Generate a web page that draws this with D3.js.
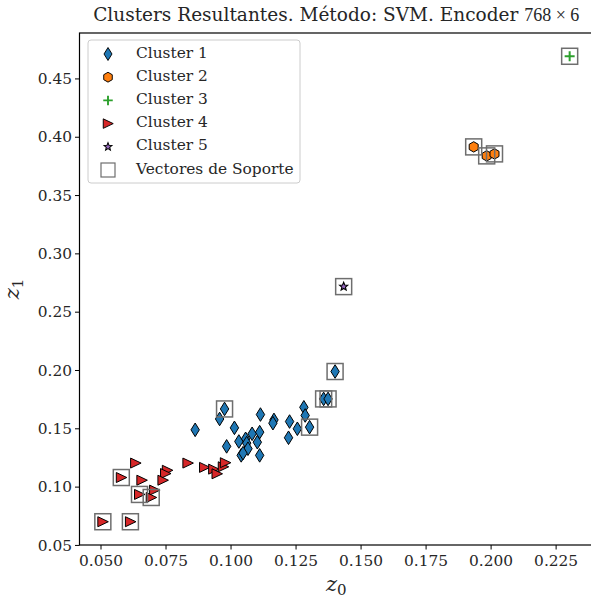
<!DOCTYPE html>
<html>
<head>
<meta charset="utf-8">
<script src="https://cdn.jsdelivr.net/npm/d3@7"></script>
<style>
  html, body { margin: 0; padding: 0; background: #ffffff; }
  svg { display: block; }
  text { font-family: "DejaVu Serif", serif; fill: #262626; }
</style>
</head>
<body>
<svg id="chart" width="591" height="599"></svg>
<script>
// ---- data -------------------------------------------------------------
const cluster1X = [0.1402, 0.1358, 0.1375, 0.0977, 0.0958, 0.1115, 0.1167, 0.1163, 0.1282,
                   0.1287, 0.1227, 0.1257, 0.1304, 0.1223, 0.0864, 0.1015, 0.1112, 0.1032,
                   0.1058, 0.1062, 0.1083, 0.1103, 0.0985, 0.1067, 0.1041, 0.1048, 0.1112];
const cluster1Y = [0.1987, 0.1752, 0.1752, 0.1666, 0.1580, 0.1618, 0.1572, 0.1544, 0.1680,
                   0.1610, 0.1558, 0.1496, 0.1510, 0.1419, 0.1487, 0.1504, 0.1467, 0.1387,
                   0.1410, 0.1373, 0.1453, 0.1381, 0.1345, 0.1325, 0.1268, 0.1287, 0.1268];

const cluster2X = [0.1935, 0.1985, 0.2015];
const cluster2Y = [0.3913, 0.3836, 0.3853];

const cluster3X = [0.2304];
const cluster3Y = [0.4690];

const cluster4X = [0.0635, 0.0580, 0.0659, 0.0757, 0.0750, 0.0740, 0.0836, 0.0650, 0.0708,
                   0.0695, 0.0509, 0.0615, 0.0900, 0.0935, 0.0948, 0.0972, 0.0980];
const cluster4Y = [0.1202, 0.1078, 0.1055, 0.1140, 0.1112, 0.1055, 0.1202, 0.0933, 0.0970,
                   0.0907, 0.0699, 0.0699, 0.1165, 0.1150, 0.1110, 0.1170, 0.1205];

const cluster5X = [0.1435];
const cluster5Y = [0.2715];

const supportX = [0.1402, 0.1358, 0.1375, 0.0977, 0.1304,
                  0.1935, 0.1985, 0.2015,
                  0.2304,
                  0.0580, 0.0650, 0.0695, 0.0509, 0.0615,
                  0.1435];
const supportY = [0.1987, 0.1752, 0.1752, 0.1666, 0.1510,
                  0.3913, 0.3836, 0.3853,
                  0.4690,
                  0.1078, 0.0933, 0.0907, 0.0699, 0.0699,
                  0.2715];

const xTicks = [0.050, 0.075, 0.100, 0.125, 0.150, 0.175, 0.200, 0.225];
const yTicks = [0.05, 0.10, 0.15, 0.20, 0.25, 0.30, 0.35, 0.40, 0.45];

const legendLabels = ["Cluster 1", "Cluster 2", "Cluster 3", "Cluster 4", "Cluster 5", "Vectores de Soporte"];

// ---- layout -----------------------------------------------------------
const svg = d3.select("#chart");
const plotLeft = 79.5, plotRight = 593, plotTop = 33, plotBottom = 545;
const tickFont = 15.4, legendFont = 15.4, titleFont = 18.5;

const zip = (xs, ys) => xs.map((x, i) => ({ x, y: ys[i] }));
const allX = [].concat(cluster1X, cluster2X, cluster3X, cluster4X, cluster5X);
const allY = [].concat(cluster1Y, cluster2Y, cluster3Y, cluster4Y, cluster5Y);
const pad = (ext) => { const m = (ext[1] - ext[0]) * 0.05; return [ext[0] - m, ext[1] + m]; };

const x = d3.scaleLinear().domain(pad(d3.extent(allX))).range([plotLeft, plotRight]);
const y = d3.scaleLinear().domain(pad(d3.extent(allY))).range([plotBottom, plotTop]);

// ---- marker shapes ------------------------------------------------------
const shapes = {
  diamond: "M0,-6.8L4.2,0L0,6.8L-4.2,0Z",
  hexagon: (() => {
    const r = 5.2; const pts = d3.range(6).map(i => {
      const a = Math.PI / 2 + i * Math.PI / 3; return [r * Math.cos(a), -r * Math.sin(a)];
    });
    return "M" + pts.map(p => p.join(",")).join("L") + "Z";
  })(),
  plus: "M-5,0L5,0M0,-5L0,5",
  triRight: "M-5,-5L5.5,0L-5,5Z",
  star: (() => {
    const pts = d3.range(10).map(i => {
      const r = i % 2 === 0 ? 4.3 : 1.9; const a = Math.PI / 2 + i * Math.PI / 5;
      return [r * Math.cos(a), -r * Math.sin(a)];
    });
    return "M" + pts.map(p => p.join(",")).join("L") + "Z";
  })()
};

const series = [
  { pts: zip(cluster1X, cluster1Y), shape: shapes.diamond, fill: "#1f77b4", stroke: "#000", sw: 1 },
  { pts: zip(cluster2X, cluster2Y), shape: shapes.hexagon, fill: "#ff7f0e", stroke: "#000", sw: 1 },
  { pts: zip(cluster3X, cluster3Y), shape: shapes.plus, fill: "none", stroke: "#2ca02c", sw: 2 },
  { pts: zip(cluster4X, cluster4Y), shape: shapes.triRight, fill: "#d62728", stroke: "#000", sw: 1 },
  { pts: zip(cluster5X, cluster5Y), shape: shapes.star, fill: "#9467bd", stroke: "#000", sw: 1.1 }
];

// ---- axes -------------------------------------------------------------
const xAxis = svg.append("g").attr("transform", `translate(0,${plotBottom})`)
  .call(d3.axisBottom(x).tickValues(xTicks).tickFormat(d3.format(".3f")).tickSizeOuter(0).tickSize(4.5));
const yAxis = svg.append("g").attr("transform", `translate(${plotLeft},0)`)
  .call(d3.axisLeft(y).tickValues(yTicks).tickFormat(d3.format(".2f")).tickSizeOuter(0).tickSize(4.5));
[xAxis, yAxis].forEach(g => {
  g.select(".domain").remove();
  g.selectAll(".tick line").attr("stroke", "#000").attr("stroke-width", 1);
  g.selectAll(".tick text").attr("font-family", "DejaVu Serif").attr("font-size", tickFont).attr("fill", "#262626");
});
xAxis.selectAll(".tick text").attr("y", 6).attr("dy", "0.95em");
yAxis.selectAll(".tick text").attr("x", -7.5).attr("dy", "0.33em");

// frame
svg.append("rect").attr("x", plotLeft).attr("y", plotTop)
  .attr("width", plotRight - plotLeft).attr("height", plotBottom - plotTop)
  .attr("fill", "none").attr("stroke", "#000").attr("stroke-width", 1.2);

// ---- points -----------------------------------------------------------
const plot = svg.append("g");
series.forEach(s => {
  plot.append("g").selectAll("path").data(s.pts).join("path")
    .attr("d", s.shape)
    .attr("transform", d => `translate(${x(d.x)},${y(d.y)})`)
    .attr("fill", s.fill).attr("stroke", s.stroke).attr("stroke-width", s.sw)
    .attr("stroke-linejoin", "miter");
});

// support vector boxes
plot.append("g").selectAll("rect").data(zip(supportX, supportY)).join("rect")
  .attr("x", d => x(d.x) - 8).attr("y", d => y(d.y) - 8)
  .attr("width", 16).attr("height", 16)
  .attr("fill", "none").attr("stroke", "#6e6e6e").attr("stroke-width", 1.5);

// ---- title & labels ----------------------------------------------------
const title = svg.append("text").attr("x", (plotLeft + plotRight) / 2).attr("y", 21)
  .attr("text-anchor", "middle").attr("font-size", titleFont);
title.append("tspan").text("Clusters Resultantes. Método: SVM. Encoder ");
title.append("tspan").attr("font-family", "Liberation Serif").attr("font-size", 18).text("768 × 6");

const xl = svg.append("text").attr("x", (plotLeft + plotRight) / 2).attr("y", 591)
  .attr("text-anchor", "middle").attr("font-size", 21);
xl.append("tspan").attr("font-style", "italic").text("z");
xl.append("tspan").attr("font-size", 15).attr("dy", 4).text("0");

const yl = svg.append("text").attr("transform", `translate(19,${(plotTop + plotBottom) / 2}) rotate(-90)`)
  .attr("text-anchor", "middle").attr("font-size", 21);
yl.append("tspan").attr("font-style", "italic").text("z");
yl.append("tspan").attr("font-size", 15).attr("dy", 4).text("1");

// ---- legend -----------------------------------------------------------
const lg = svg.append("g");
lg.append("rect").attr("x", 88).attr("y", 40).attr("width", 212).attr("height", 143)
  .attr("rx", 3).attr("fill", "#fff").attr("fill-opacity", 0.8)
  .attr("stroke", "#cccccc").attr("stroke-width", 1);
const legendRowY = d3.scaleLinear().domain([0, legendLabels.length - 1]).range([52.5, 168.5]);
legendLabels.forEach((lab, i) => {
  const cy = legendRowY(i);
  if (i < series.length) {
    const s = series[i];
    lg.append("path").attr("d", s.shape).attr("transform", `translate(108,${cy + 1.5}) scale(0.95)`)
      .attr("fill", s.fill).attr("stroke", s.stroke).attr("stroke-width", s.sw);
  } else {
    lg.append("rect").attr("x", 101).attr("y", cy - 5.5).attr("width", 14).attr("height", 14)
      .attr("fill", "none").attr("stroke", "#6e6e6e").attr("stroke-width", 1.2);
  }
  lg.append("text").attr("x", 136).attr("y", cy).attr("dy", "0.33em")
    .attr("font-size", legendFont).text(lab);
});
</script>
</body>
</html>
